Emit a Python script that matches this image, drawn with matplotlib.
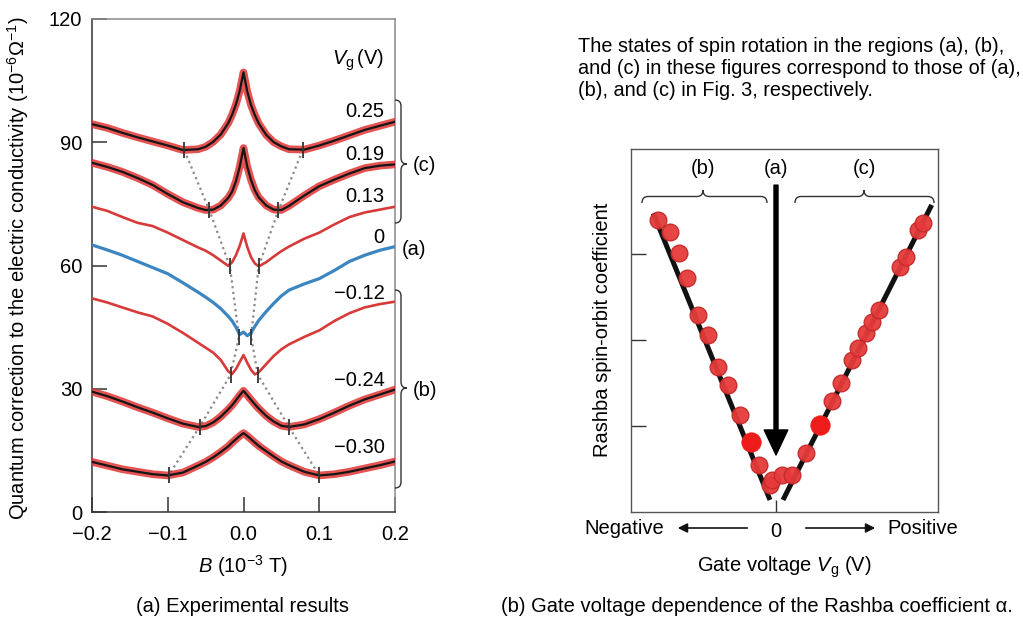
import numpy as np
import matplotlib

matplotlib.use('Agg')
import matplotlib.pyplot as plt
from matplotlib.path import Path
from matplotlib.patches import PathPatch, FancyArrowPatch

plt.rcParams['font.family'] = ['Liberation Sans', 'DejaVu Sans']
plt.rcParams['mathtext.fontset'] = 'custom'
plt.rcParams['mathtext.rm'] = 'Liberation Sans'
plt.rcParams['mathtext.it'] = 'Liberation Sans:italic'
plt.rcParams['mathtext.bf'] = 'Liberation Sans:bold'

# ---- panel (a): magnetoconductance curves ----
B = [-0.2, -0.18, -0.16, -0.14, -0.12, -0.10, -0.08, -0.06, -0.05, -0.04, -0.03,
     -0.02, -0.015, -0.01, -0.005, 0.0, 0.005, 0.01, 0.015, 0.02, 0.03, 0.04,
     0.05, 0.06, 0.08, 0.10, 0.12, 0.14, 0.16, 0.18, 0.2]

vg_labels = ['0.25', '0.19', '0.13', '0', '\u22120.12', '\u22120.24', '\u22120.30']

sigma_025 = [94.4, 93.5, 92.3, 91.2, 90.2, 89.2, 88.1, 88.3, 88.9, 90.1, 91.9, 94.7, 96.7,
             99.2, 102.5, 107.0, 102.3, 99.0, 96.6, 94.6, 91.8, 90.0, 89.0, 88.3, 88.2,
             89.2, 90.4, 91.7, 93.0, 94.0, 95.0]
sigma_019 = [85.0, 84.0, 82.8, 81.3, 79.6, 77.4, 75.4, 74.0, 73.5, 73.6, 74.6, 76.5, 78.0,
             80.5, 84.0, 88.6, 84.0, 80.8, 78.3, 76.6, 74.6, 73.6, 73.5, 74.5, 77.0, 79.3,
             80.9, 82.4, 83.7, 84.3, 84.6]
sigma_013 = [74.3, 73.3, 71.8, 70.4, 69.6, 68.0, 66.2, 64.4, 63.6, 62.5, 61.2, 59.9, 60.8,
             62.5, 64.8, 67.8, 64.5, 62.0, 60.5, 59.8, 60.8, 62.2, 63.5, 64.6, 66.5, 68.0,
             70.0, 71.8, 72.9, 73.6, 74.3]
sigma_000 = [65.0, 63.8, 62.5, 61.0, 59.5, 58.0, 55.8, 53.5, 52.3, 51.0, 49.5, 47.6, 46.5,
             45.0, 43.2, 43.8, 42.9, 43.6, 45.2, 46.6, 48.8, 50.8, 52.6, 54.0, 55.5, 56.8,
             58.8, 61.0, 62.5, 63.7, 64.6]
sigma_m012 = [52.0, 51.0, 49.8, 48.6, 47.6, 45.8, 43.6, 41.2, 40.0, 38.8, 37.0, 34.2, 33.6,
              34.8, 36.5, 38.2, 36.3, 34.6, 33.5, 34.0, 36.0, 38.0, 39.6, 40.8, 42.6, 44.2,
              46.5, 48.4, 49.8, 50.6, 51.2]
sigma_m024 = [29.3, 28.2, 26.9, 25.5, 24.2, 22.8, 21.5, 20.7, 20.9, 21.8, 23.2, 25.0, 26.0,
              27.2, 28.4, 29.5, 28.4, 27.3, 26.2, 25.2, 23.4, 22.0, 21.0, 20.7, 21.3, 22.6,
              24.2, 25.9, 27.4, 28.6, 29.8]
sigma_m030 = [12.2, 11.3, 10.4, 9.8, 9.2, 8.9, 9.6, 11.3, 12.2, 13.3, 14.6, 16.0, 16.9,
              17.7, 18.5, 19.2, 18.5, 17.7, 16.9, 16.1, 14.8, 13.5, 12.3, 11.4, 9.8, 8.9,
              9.2, 9.8, 10.6, 11.4, 12.3]
curves = [sigma_025, sigma_019, sigma_013, sigma_000, sigma_m012, sigma_m024, sigma_m030]
has_fit = [True, True, False, False, False, True, True]

# positions of the marked minima (B_so) for each curve
min_left = [-0.078, -0.045, -0.018, -0.006, -0.017, -0.058, -0.099]
min_right = [0.078, 0.046, 0.020, 0.010, 0.019, 0.060, 0.100]
min_sigma = [88.0, 73.4, 59.8, 42.6, 33.4, 20.7, 8.9]
label_sigma = [97.4, 86.9, 76.7, 66.7, 53.3, 32.1, 15.6]

# ---- panel (b): Rashba coefficient vs gate voltage (arbitrary units) ----
vg_pts = [-1.177, -1.06, -0.967, -0.887, -0.777, -0.677, -0.577, -0.477, -0.36, -0.167,
          -0.06, -0.043, 0.057, 0.157, 0.30, 0.56, 0.65, 0.76, 0.82, 0.90, 0.96,
          1.03, 1.24, 1.30, 1.42, 1.47]
alpha_pts = [3.395, 3.259, 3.008, 2.717, 2.291, 2.058, 1.690, 1.477, 1.128, 0.547,
             0.314, 0.372, 0.430, 0.430, 0.683, 1.291, 1.497, 1.767, 1.903, 2.078, 2.213,
             2.349, 2.852, 2.969, 3.279, 3.357]
vg_big = [-0.253, 0.44]
alpha_big = [0.817, 1.012]
fit_left_x = [-1.227, -0.06]
fit_left_y = [3.473, 0.14]
fit_right_x = [0.07, 1.557]
fit_right_y = [0.14, 3.57]

W, H = 1023, 617
fig = plt.figure(figsize=(W / 100, H / 100), dpi=100)


def fpos(x, y):
    return x / W, 1 - y / H


def brace(x0, y0, x1, y1, tip, depth, r=6, vertical=True):
    # curly brace in figure pixels (y down); vertical points right, horizontal points up
    if vertical:
        m = x0 + depth / 2
        pts = [(x0, y0), (m, y0), (m, y0 + r), (m, tip - r), (m, tip), (x0 + depth, tip),
               (m, tip), (m, tip + r), (m, y1 - r), (m, y1), (x0, y1)]
    else:
        m = y0 - depth / 2
        pts = [(x0, y0), (x0, m), (x0 + r, m), (tip - r, m), (tip, m), (tip, y0 - depth),
               (tip, m), (tip + r, m), (x1 - r, m), (x1, m), (x1, y0)]
    codes = [Path.MOVETO, Path.CURVE3, Path.CURVE3, Path.LINETO, Path.CURVE3, Path.CURVE3,
             Path.CURVE3, Path.CURVE3, Path.LINETO, Path.CURVE3, Path.CURVE3]
    path = Path([fpos(px, py) for px, py in pts], codes)
    fig.add_artist(PathPatch(path, transform=fig.transFigure, fc='none', ec='#333333', lw=1.0))


# ---------------- left panel ----------------
ax1 = fig.add_axes([92 / W, 1 - 512 / H, 303 / W, 493 / H])
for i, ys in enumerate(curves):
    if i == 3:
        ax1.plot(B, ys, color='#3b86c0', lw=2.3, zorder=3)
    elif has_fit[i]:
        ax1.plot(B, ys, color='#e03434', lw=5.5, alpha=0.85, zorder=3,
                 solid_joinstyle='round')
        ax1.plot(B, ys, color='#151515', lw=1.6, zorder=4)
    else:
        ax1.plot(B, ys, color='#d83a3a', lw=1.9, zorder=3)

ax1.plot(min_left, min_sigma, color='#8a8a8a', lw=1.6, ls=(0, (1, 1.6)), zorder=2)
ax1.plot(min_right, min_sigma, color='#8a8a8a', lw=1.6, ls=(0, (1, 1.6)), zorder=2)
ax1.plot(min_left + min_right, min_sigma + min_sigma, ls='none', marker='|', ms=12,
         mew=1.3, color='#333333', zorder=5)

for lab, yv in zip(vg_labels, label_sigma):
    ax1.text(0.186, yv, lab, ha='right', va='center', fontsize=14.5)
ax1.text(0.186, 110, r'$V_{\mathrm{g}}\,$(V)', ha='right', va='center', fontsize=14.5)

ax1.set_xlim(-0.2, 0.2)
ax1.set_ylim(0, 120)
ax1.set_xticks([-0.2, -0.1, 0.0, 0.1, 0.2])
ax1.set_xticklabels(['\u22120.2', '\u22120.1', '0.0', '0.1', '0.2'])
ax1.set_yticks([0, 30, 60, 90, 120])
ax1.tick_params(axis='x', direction='in', length=11, width=1.1, color='#333333',
                labelsize=14.5, pad=9)
ax1.tick_params(axis='y', direction='in', length=11, width=1.1, color='#333333',
                labelsize=14.5, pad=7)
for s in ['left', 'bottom']:
    ax1.spines[s].set_color('#333333')
    ax1.spines[s].set_linewidth(1.1)
for s in ['top', 'right']:
    ax1.spines[s].set_color('#8a8a8a')
    ax1.spines[s].set_linewidth(1.1)

fig.text(*fpos(18, 268), 'Quantum correction to the electric conductivity (10$^{-6}$\u03a9$^{-1}$)',
         rotation=90, ha='center', va='center', fontsize=14.5)
fig.text(*fpos(243, 566), r'$B$ (10$^{-3}$ T)', ha='center', va='center', fontsize=14.5)
fig.text(*fpos(243, 606), '(a) Experimental results', ha='center', va='center', fontsize=14.5)

brace(395, 100, 395, 223, 164, 12)
brace(395, 290, 395, 488, 388, 12)
fig.text(*fpos(413, 166), '(c)', ha='left', va='center', fontsize=14.5)
fig.text(*fpos(402, 250), '(a)', ha='left', va='center', fontsize=14.5)
fig.text(*fpos(413, 390), '(b)', ha='left', va='center', fontsize=14.5)

# ---------------- right panel ----------------
ax2 = fig.add_axes([631 / W, 1 - 512 / H, 307 / W, 363 / H])
ax2.plot(fit_left_x, fit_left_y, color='#111111', lw=3.6, solid_capstyle='butt', zorder=2)
ax2.plot(fit_right_x, fit_right_y, color='#111111', lw=3.6, solid_capstyle='butt', zorder=2)
ax2.plot(vg_pts, alpha_pts, ls='none', marker='o', ms=12, mfc='#e63a3a', mec='#c42a2a',
         mew=1.0, alpha=0.95, zorder=3)
ax2.plot(vg_big, alpha_big, ls='none', marker='o', ms=14, mfc='#ee1b1b', mec='#ee1b1b',
         mew=0.5, zorder=3)
ax2.annotate('', xy=(0, 0.663), xytext=(0, 3.80),
             arrowprops=dict(facecolor='black', edgecolor='black', width=2.9,
                             headwidth=17, headlength=18, shrink=0), zorder=5)

ax2.set_xlim(-1.45, 1.62)
ax2.set_ylim(0, 4.22)
ax2.set_xticks([0])
ax2.set_xticklabels(['0'])
ax2.set_yticks([1, 2, 3])
ax2.set_yticklabels([])
ax2.tick_params(axis='x', direction='in', length=9, width=1.0, color='#333333',
                labelsize=14.5, pad=7)
ax2.tick_params(axis='y', direction='in', length=11, width=1.0, color='#333333')
for s in ax2.spines.values():
    s.set_color('#555555')
    s.set_linewidth(1.0)

fig.text(*fpos(603, 330), 'Rashba spin-orbit coefficient', rotation=90, ha='center',
         va='center', fontsize=14.5)
fig.text(*fpos(664, 528), 'Negative', ha='right', va='center', fontsize=14.5)
fig.text(*fpos(887, 528), 'Positive', ha='left', va='center', fontsize=14.5)
fig.add_artist(FancyArrowPatch(fpos(750, 528), fpos(675, 528), transform=fig.transFigure,
                               arrowstyle='-|>', mutation_scale=14, lw=1.2, color='#111111'))
fig.add_artist(FancyArrowPatch(fpos(803, 528), fpos(878, 528), transform=fig.transFigure,
                               arrowstyle='-|>', mutation_scale=14, lw=1.2, color='#111111'))
fig.text(*fpos(784, 567), r'Gate voltage $V_{\mathrm{g}}$ (V)', ha='center', va='center',
         fontsize=14.5)
fig.text(*fpos(757, 606), '(b) Gate voltage dependence of the Rashba coefficient \u03b1.',
         ha='center', va='center', fontsize=14.5)

brace(642, 203, 767, 203, 703, 13, vertical=False)
brace(795, 203, 934, 203, 864, 13, vertical=False)
fig.text(*fpos(703, 168), '(b)', ha='center', va='center', fontsize=14.5)
fig.text(*fpos(776, 168), '(a)', ha='center', va='center', fontsize=14.5)
fig.text(*fpos(864, 168), '(c)', ha='center', va='center', fontsize=14.5)

fig.text(*fpos(578, 68),
         'The states of spin rotation in the regions (a), (b),\n'
         'and (c) in these figures correspond to those of (a),\n'
         '(b), and (c) in Fig. 3, respectively.',
         ha='left', va='center', fontsize=14.3, linespacing=1.2)

fig.savefig('out.png', dpi=100)
